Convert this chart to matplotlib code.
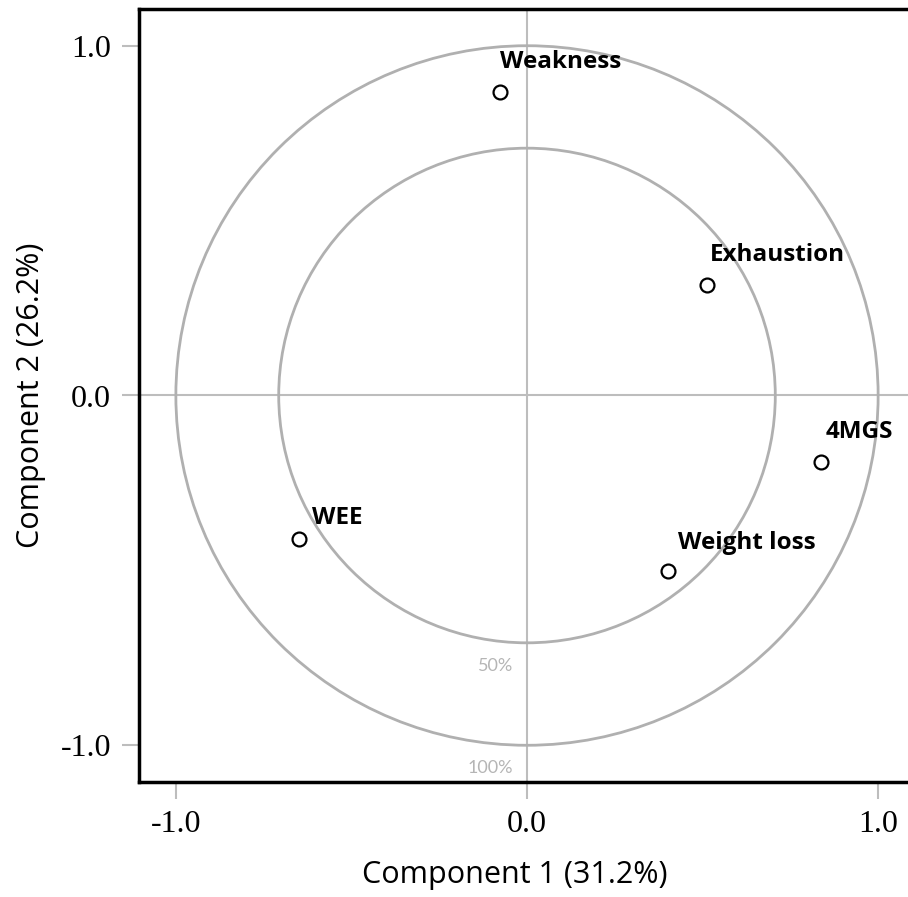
import numpy as np
import matplotlib
matplotlib.use("Agg")
import matplotlib.pyplot as plt
from matplotlib.patches import Circle

# Data
variables = ["Weakness", "Exhaustion", "4MGS", "Weight loss", "WEE"]
comp1 = [-0.077, 0.513, 0.838, 0.402, -0.650]
comp2 = [0.869, 0.317, -0.189, -0.503, -0.411]
ticks = [-1.0, 0.0, 1.0]
tick_labels = ["-1.0", "0.0", "1.0"]
circle_labels = ["50%", "100%"]
circle_radii = [np.sqrt(0.5), 1.0]
xlabel = "Component 1 (31.2%)"
ylabel = "Component 2 (26.2%)"

# label offsets (pixels)
offsets_px = [(0, 30), (3, 30), (4, 30), (10, 28), (13, 21)]

fig = plt.figure(figsize=(9.08, 8.97), dpi=100)
ax = fig.add_axes([139/908, 115/897, (915-139)/908, 773/897])
lim = 1.105
ax.set_xlim(-lim, lim)
ax.set_ylim(-lim, lim)

grey = "#bdbdbd"
ax.axhline(0, color=grey, lw=1.5, zorder=1)
ax.axvline(0, color=grey, lw=1.5, zorder=1)
for r in circle_radii:
    ax.add_patch(Circle((0, 0), r, fill=False, ec="#b0b0b0", lw=2.0, zorder=2))

ax.text(-0.04, -np.sqrt(0.5) - 0.065, circle_labels[0], ha='right', va='center',
        color="#b5b5b5", fontsize=13, family="Lato")
ax.text(-0.04, -1.0 - 0.065, circle_labels[1], ha='right', va='center',
        color="#b5b5b5", fontsize=13, family="Lato")

ax.plot(comp1, comp2, 'o', ms=10, mfc='white', mec='black', mew=1.6, zorder=4)
for name, x, y, (dx, dy) in zip(variables, comp1, comp2, offsets_px):
    ax.annotate(name, (x, y), xytext=(dx*0.72, dy*0.72), textcoords='offset points',
                ha='left', va='center', fontsize=17.5, fontweight='bold',
                family="Open Sans", zorder=5)

for s in ax.spines.values():
    s.set_linewidth(2.5)
    s.set_color('black')

ax.set_xticks(ticks)
ax.set_xticklabels(tick_labels)
ax.set_yticks(ticks)
ax.set_yticklabels(tick_labels)
ax.tick_params(direction='out', length=12, width=1.5, color="#bdbdbd", pad=8,
               labelsize=23)
for lab in ax.get_xticklabels() + ax.get_yticklabels():
    lab.set_family("Liberation Serif")

ax.set_xlabel(xlabel, fontsize=22, family="Open Sans")
ax.set_ylabel(ylabel, fontsize=22, family="Open Sans")
ax.xaxis.set_label_coords((515 - 139) / 776, (782 - 860) / 773)
ax.yaxis.set_label_coords((46 - 139) / 776, 0.5)

fig.savefig("out.png", dpi=100)
